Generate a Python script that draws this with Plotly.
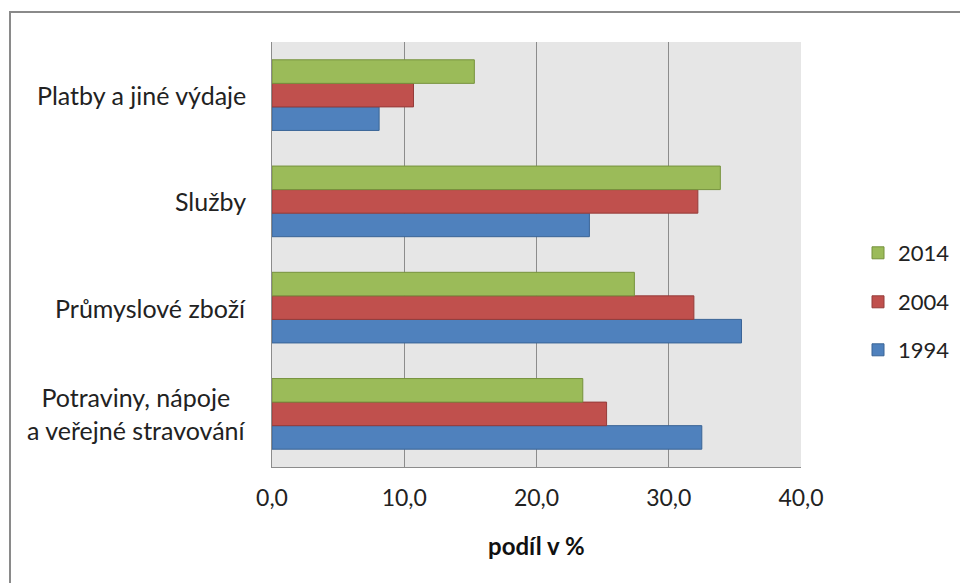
import plotly.graph_objects as go

# Household spending structure by category (share in %)
categories = ["Potraviny, nápoje<br>a veřejné stravování", "Průmyslové zboží", "Služby", "Platby a jiné výdaje"]
years = ["1994", "2004", "2014"]
values_1994 = [32.5, 35.5, 24.0, 8.1]
values_2004 = [25.3, 31.9, 32.2, 10.7]
values_2014 = [23.5, 27.4, 33.9, 15.3]
x_ticks = [0, 10, 20, 30, 40]

fills = {"1994": "#4F81BD", "2004": "#C0504D", "2014": "#9BBB59"}
edges = {"1994": "#3A6496", "2004": "#943C3A", "2014": "#76923C"}
series = {"1994": values_1994, "2004": values_2004, "2014": values_2014}
legend_ids = {"2014": "legend", "2004": "legend2", "1994": "legend3"}

W, H = 960, 583
L, R, T, B = 272, 159, 42, 116
pw, ph = W - L - R, H - T - B

px2x = lambda p: (p - L) / pw
px2y = lambda p: 1 - (p - T) / ph

fig = go.Figure()
for yr in years:
    fig.add_trace(go.Bar(
        y=categories, x=series[yr], name=yr, orientation="h",
        marker=dict(color=fills[yr], line=dict(color=edges[yr], width=1)),
        legend=legend_ids[yr],
    ))

font_family = "Lato, 'Open Sans', sans-serif"
legend_common = dict(
    xref="container", yref="container", xanchor="left", yanchor="middle",
    font=dict(family=font_family, size=22, color="#222"),
    bgcolor="rgba(0,0,0,0)", itemwidth=30,
)
legend_rows = {"legend": 253, "legend2": 302, "legend3": 350}
layout_legends = {k: dict(legend_common, x=858 / W, y=1 - v / H) for k, v in legend_rows.items()}

# Category labels drawn as centered text blocks left of the plot
annotations = [
    dict(text=c, x=0, y=c, xref="paper", yref="y", xanchor="right", xshift=-24,
         align="center", showarrow=False,
         font=dict(family=font_family, size=25, color="#222"))
    for c in categories
]
annotations.append(dict(text="<b>podíl v %</b>", x=px2x(536), y=px2y(545), xref="paper", yref="paper",
                        yanchor="middle", showarrow=False,
                        font=dict(family=font_family, size=24, color="#111")))

# Outer chart frame
shapes = [dict(type="rect", xref="paper", yref="paper",
               x0=px2x(10), x1=px2x(990), y0=px2y(12), y1=px2y(600),
               line=dict(color="#8a8a8a", width=2), layer="below")]

fig.update_layout(
    width=W, height=H,
    margin=dict(l=L, r=R, t=T, b=B),
    paper_bgcolor="white", plot_bgcolor="#E6E6E6",
    barmode="group", bargap=0.335, bargroupgap=0,
    separators=", ",
    showlegend=True,
    annotations=annotations,
    shapes=shapes,
    xaxis=dict(range=[0, 40], tickvals=x_ticks, tickformat=".1f",
               showgrid=True, gridcolor="#8c8c8c", gridwidth=1,
               showline=True, linecolor="#8c8c8c", linewidth=1,
               ticks="", ticklen=0, zeroline=False, ticklabelstandoff=10,
               tickfont=dict(family=font_family, size=23, color="#222")),
    yaxis=dict(showticklabels=False, showline=True, linecolor="#8c8c8c", linewidth=1,
               showgrid=False, ticks="", categoryorder="array", categoryarray=categories),
    **layout_legends,
)

fig.write_html("out.html")
